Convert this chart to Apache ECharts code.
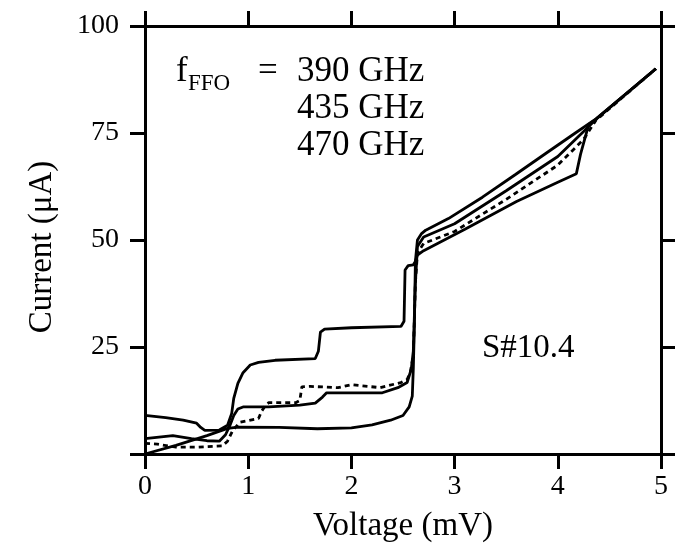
<!DOCTYPE html>
<html>
<head>
<meta charset="utf-8">
<script src="https://cdn.jsdelivr.net/npm/echarts@6/dist/echarts.min.js"></script>
<style>
  html, body { margin: 0; padding: 0; background: #fff; }
  #chart { width: 675px; height: 556px; }
</style>
</head>
<body>
<div id="chart"></div>
<script>
// tick values
var xTicks = [0, 1, 2, 3, 4, 5];
var yTicks = [0, 25, 50, 75, 100];

// I-V curves: [voltage mV, current uA]
var curveUnpumped = [
  [0, 0], [0.3, 2.0], [0.6, 4.3], [0.8, 6.0], [0.9, 6.3], [1.3, 6.2], [1.67, 5.9],
  [2.0, 6.1], [2.2, 6.8], [2.38, 7.9], [2.5, 9.0], [2.56, 11], [2.59, 13.5],
  [2.6, 20], [2.61, 30], [2.62, 45], [2.64, 50], [2.68, 51.5], [2.72, 52.3],
  [2.94, 55], [3.27, 60], [3.59, 65.3], [3.9, 70.5], [4.17, 75], [4.37, 78.3], [4.95, 90]
];
var curve390 = [
  [0, 9.0], [0.2, 8.5], [0.37, 7.9], [0.5, 7.2], [0.54, 6.2], [0.58, 5.5], [0.72, 5.6],
  [0.8, 6.7], [0.84, 9.5], [0.86, 13], [0.9, 16.5], [0.95, 19], [1.02, 20.8], [1.1, 21.4],
  [1.26, 21.9], [1.65, 22.3], [1.68, 24], [1.7, 28.5], [1.74, 29.2], [2.0, 29.5],
  [2.48, 29.8], [2.51, 31], [2.52, 43], [2.55, 44], [2.6, 44.2], [2.62, 45], [2.64, 46.5],
  [2.7, 47.5], [3.1, 52.5], [3.6, 59], [4.0, 63.5], [4.18, 65.5], [4.22, 70], [4.3, 77],
  [4.37, 78.2], [4.95, 90]
];
var curve435 = [
  [0, 2.5], [0.12, 2.3], [0.3, 1.6], [0.5, 1.6], [0.75, 1.9], [0.8, 3], [0.85, 5.5],
  [0.92, 7.4], [1.1, 8.3], [1.13, 10], [1.17, 11.4], [1.2, 12], [1.46, 12], [1.5, 12.5],
  [1.52, 15.7], [1.6, 15.8], [1.87, 15.5], [2.0, 16.2], [2.28, 15.5], [2.48, 16.7],
  [2.54, 17.4], [2.57, 19], [2.6, 23], [2.62, 40], [2.64, 47], [2.7, 49.2], [3.0, 52],
  [3.5, 59.5], [4.0, 67.5], [4.25, 73.5], [4.37, 78], [4.95, 90]
];
var curve470 = [
  [0, 3.6], [0.27, 4.3], [0.45, 3.6], [0.6, 3.1], [0.72, 3.0], [0.78, 4.5], [0.82, 6.5],
  [0.86, 9], [0.9, 10.5], [0.95, 11], [1.2, 11], [1.5, 11.4], [1.65, 11.9], [1.72, 13.3],
  [1.76, 14.3], [2.3, 14.3], [2.45, 15.5], [2.54, 16.7], [2.58, 19.8], [2.6, 24],
  [2.62, 40], [2.64, 48.5], [2.7, 50.7], [3.0, 53.8], [3.5, 61.5], [4.0, 69.5],
  [4.3, 76.5], [4.37, 78.2], [4.95, 90]
];

var serif = 'Liberation Serif';
var chart = echarts.init(document.getElementById('chart'));

function mkLine(name, data, dashed) {
  return {
    name: name,
    type: 'line',
    data: data,
    showSymbol: false,
    silent: true,
    lineStyle: { color: '#000', width: 2.8, type: dashed ? [5, 4] : 'solid' }
  };
}

function txt(x, y, s, size) {
  return { type: 'text', left: x, top: y, style: { text: s, font: size + 'px "Liberation Serif"', fill: '#000' } };
}

var axisLine = { show: true, onZero: false, lineStyle: { color: '#000', width: 3 } };
var axisTick = { show: true, inside: false, length: 15, lineStyle: { color: '#000', width: 3 } };

chart.setOption({
  animation: false,
  backgroundColor: '#fff',
  grid: { left: 145, right: 14, top: 26, bottom: 102 },
  xAxis: [{
    type: 'value', min: xTicks[0], max: xTicks[xTicks.length - 1], interval: 1,
    position: 'bottom',
    name: 'Voltage (mV)', nameLocation: 'middle', nameGap: 56,
    nameTextStyle: { fontFamily: serif, fontSize: 33, color: '#000' },
    axisLine: axisLine, axisTick: axisTick, splitLine: { show: false },
    axisLabel: { margin: 19, fontFamily: serif, fontSize: 28, color: '#000' }
  }, {
    type: 'value', min: xTicks[0], max: xTicks[xTicks.length - 1], interval: 1,
    position: 'top',
    axisLine: axisLine, axisTick: axisTick, splitLine: { show: false },
    axisLabel: { show: false }
  }],
  yAxis: [{
    type: 'value', min: yTicks[0], max: yTicks[yTicks.length - 1], interval: 25,
    position: 'left',
    name: 'Current (\u03bcA)', nameLocation: 'middle', nameGap: 86, nameRotate: 90,
    nameTextStyle: { fontFamily: serif, fontSize: 33, color: '#000', padding: [0, 14, 0, 0] },
    axisLine: axisLine, axisTick: axisTick, splitLine: { show: false },
    axisLabel: {
      margin: 26, fontFamily: serif, fontSize: 28, color: '#000',
      formatter: function (v) { return v === 0 ? '' : v; }
    }
  }, {
    type: 'value', min: yTicks[0], max: yTicks[yTicks.length - 1], interval: 25,
    position: 'right',
    axisLine: axisLine, axisTick: axisTick, splitLine: { show: false },
    axisLabel: { show: false }
  }],
  graphic: [
    txt(176, 54, 'f', 35),
    txt(188, 72, 'FFO', 23),
    txt(258, 54, '=', 35),
    txt(297, 54, '390 GHz', 35),
    txt(297, 91, '435 GHz', 35),
    txt(297, 128, '470 GHz', 35),
    txt(482, 332, 'S#10.4', 33)
  ],
  series: [
    mkLine('unpumped', curveUnpumped, false),
    mkLine('390 GHz', curve390, false),
    mkLine('435 GHz', curve435, true),
    mkLine('470 GHz', curve470, false)
  ]
});
</script>
</body>
</html>
